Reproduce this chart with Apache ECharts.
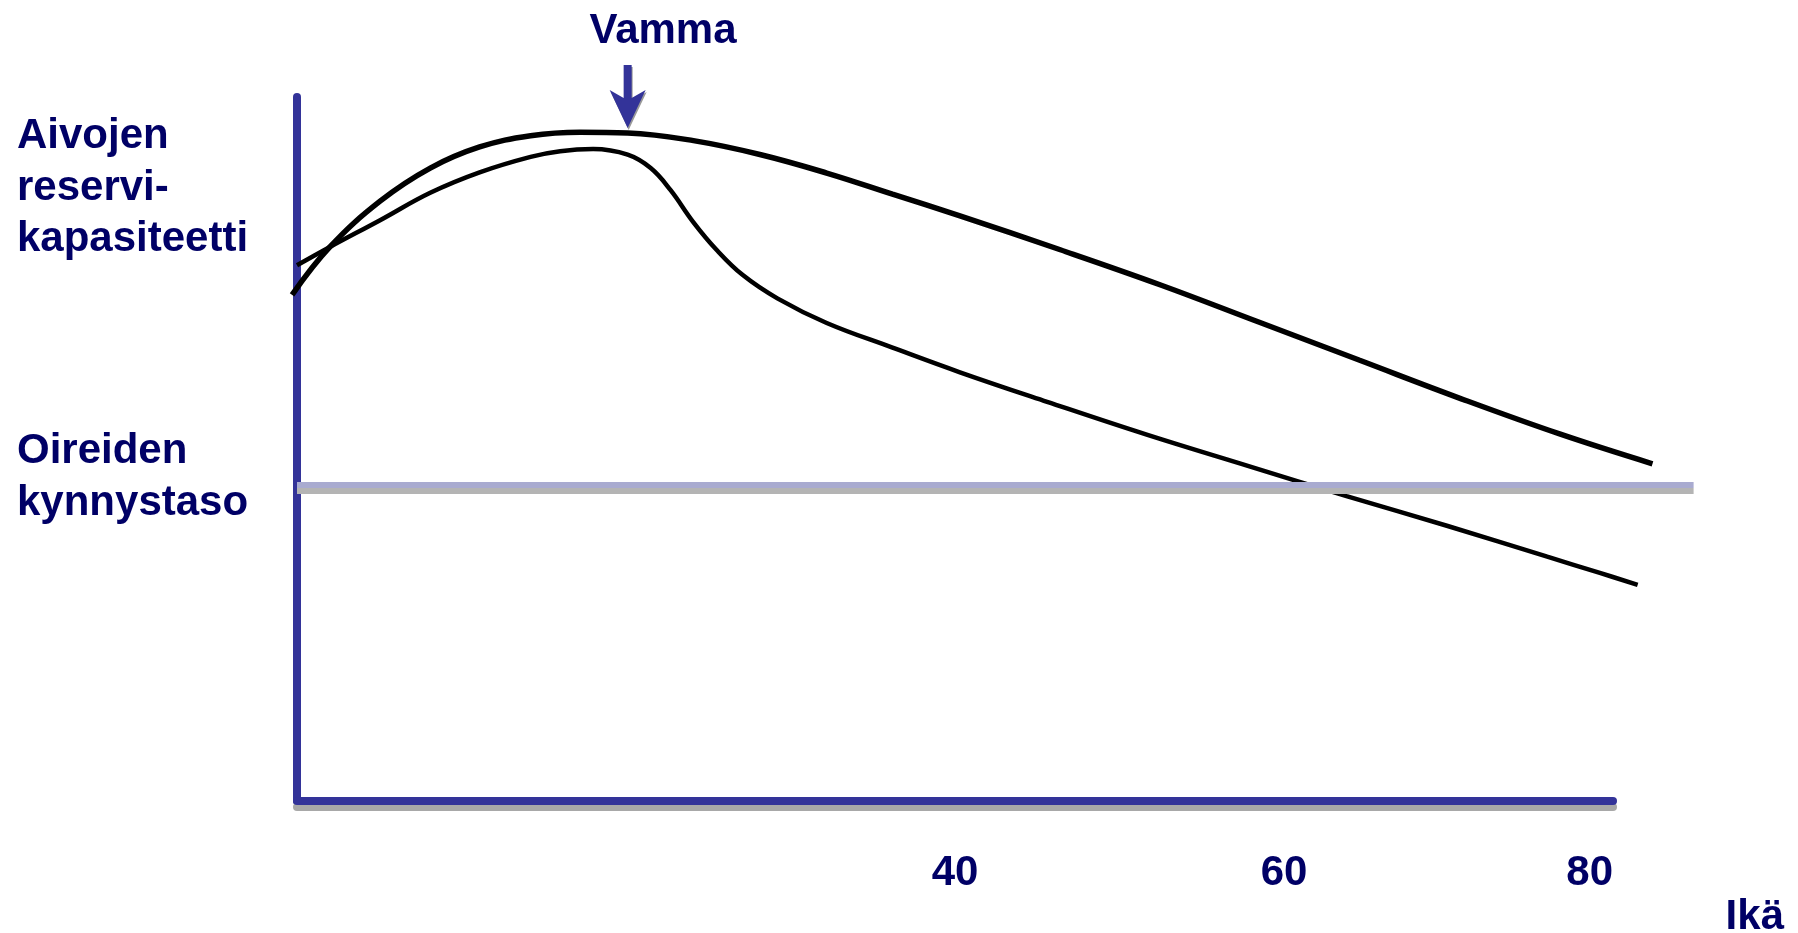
<!DOCTYPE html>
<html>
<head>
<meta charset="utf-8">
<title>Aivojen reservikapasiteetti</title>
<script src="https://cdn.jsdelivr.net/npm/echarts@6.0.0/dist/echarts.min.js"></script>
<style>
  html, body { margin: 0; padding: 0; background: #fff; }
  #chart { width: 1798px; height: 933px; }
</style>
</head>
<body>
<div id="chart"></div>
<script>
  // terve käyrä (ylempi)
  const healthyAge = [-0.3, 2.0, 5.05, 8.1, 11.1, 14.2, 17.2, 20.1, 24.1, 28.2, 32.2, 36.2, 40.3, 46.4, 52.5, 58.5, 64.6, 70.7, 76.8, 82.4]
  const healthyReserve = [71.9, 78.7, 85.2, 89.9, 92.9, 94.5, 95.0, 94.9, 93.8, 91.8, 89.2, 86.2, 83.1, 78.3, 73.3, 68.0, 62.6, 57.2, 52.1, 47.9]
  // vamman jälkeinen käyrä (alempi)
  const injuredAge = [0, 2.0, 5.05, 8.1, 11.1, 14.2, 16.0, 18.0, 20.1, 21.5, 22.7, 24.1, 25.5, 27.1, 29.2, 32.2, 36.2, 40.3, 45.6, 51.7, 57.8, 63.8, 69.9, 76.0, 79.2, 81.5]
  const injuredReserve = [76.1, 78.7, 82.5, 86.4, 89.3, 91.5, 92.3, 92.6, 91.8, 89.9, 86.8, 82.2, 78.3, 74.7, 71.4, 67.9, 64.4, 60.9, 56.7, 52.0, 47.6, 43.3, 39.1, 34.7, 32.4, 30.7]
  // oireiden kynnystaso
  const thresholdAge = [0, 84.9]
  const thresholdLevel = [44.9, 44.9]
  // näkyvät ikäluvut
  const tickAges = [40, 60, 80]
  // vamman kohta
  const injuryAge = 20.1
  const injuryLevel = 95.6

  const navy = '#000066'
  const axisBlue = '#333399'
  const font = "'Liberation Sans', Arial, sans-serif"
  // yksi ikävuosi pikseleinä (akseli 0..80 = 1316 px)
  const pxPerYear = 1316 / 80

  const zip = (xs, ys) => xs.map((x, i) => [x, ys[i]])

  const chart = echarts.init(document.getElementById('chart'))

  // teksti varjolla
  const label = (text, x, y, size, align) => ({
    type: 'text',
    x: x,
    y: y,
    style: {
      text: text,
      font: 'bold ' + size + 'px ' + font,
      fill: navy,
      align: align || 'left',
      verticalAlign: 'middle',
      textShadowColor: '#a8a8a8',
      textShadowOffsetX: 2,
      textShadowOffsetY: 2
    }
  })

  const option = {
    backgroundColor: '#fff',
    animation: false,
    grid: [
      // näkyvät akselit
      { left: 297, right: 185, top: 97, bottom: 132 },
      // käyrät: sama mittakaava, mutta leveämpi alue (-1..86)
      { left: 297 - pxPerYear, right: 1798 - 297 - 86 * pxPerYear, top: 97, bottom: 132 }
    ],
    xAxis: [
      {
        gridIndex: 0,
        type: 'value',
        min: 0,
        max: 80,
        interval: 20,
        axisLine: {
          lineStyle: {
            color: axisBlue, width: 8,
            shadowColor: '#a8a8a8', shadowOffsetY: 6, shadowBlur: 0
          }
        },
        axisTick: { show: false },
        splitLine: { show: false },
        axisLabel: {
          margin: 51,
          alignMaxLabel: 'right',
          color: navy,
          fontFamily: font,
          fontWeight: 'bold',
          fontSize: 42,
          textShadowColor: '#a8a8a8',
          textShadowOffsetX: 2,
          textShadowOffsetY: 2,
          formatter: v => tickAges.includes(v) ? String(v) : ''
        }
      },
      { gridIndex: 1, type: 'value', min: -1, max: 86, show: false }
    ],
    yAxis: [
      {
        gridIndex: 0,
        type: 'value',
        min: 0,
        max: 100,
        axisLine: { show: true, lineStyle: { color: axisBlue, width: 8 } },
        axisTick: { show: false },
        axisLabel: { show: false },
        splitLine: { show: false }
      },
      { gridIndex: 1, type: 'value', min: 0, max: 100, show: false }
    ],
    series: [
      {
        name: 'terve',
        type: 'line',
        xAxisIndex: 1,
        yAxisIndex: 1,
        data: zip(healthyAge, healthyReserve),
        smooth: 0.4,
        showSymbol: false,
        lineStyle: { color: '#000', width: 5.5 },
        // nuoli vamman kohdalle
        markPoint: {
          symbol: 'path://M14,0 L22,0 L22,33 L36,25 L18,63 L0,25 L14,33 Z',
          symbolSize: [36, 63],
          symbolOffset: [0, '-50%'],
          itemStyle: {
            color: axisBlue,
            shadowColor: '#999', shadowOffsetX: 1, shadowOffsetY: 2, shadowBlur: 0
          },
          label: { show: false },
          data: [{ coord: [injuryAge, injuryLevel] }]
        }
      },
      {
        name: 'vamma',
        type: 'line',
        xAxisIndex: 1,
        yAxisIndex: 1,
        data: zip(injuredAge, injuredReserve),
        smooth: 0.4,
        showSymbol: false,
        lineStyle: { color: '#000', width: 4.5 }
      },
      {
        name: 'kynnys',
        type: 'line',
        xAxisIndex: 1,
        yAxisIndex: 1,
        data: zip(thresholdAge, thresholdLevel),
        showSymbol: false,
        z: 3,
        lineStyle: {
          color: '#a9abd0', width: 6,
          shadowColor: '#b4b4b4', shadowOffsetY: 6, shadowBlur: 0
        }
      }
    ],
    graphic: [
      label('Vamma', 663, 31, 42, 'center'),
      label('Aivojen', 17, 136, 42),
      label('reservi-', 17, 188, 42),
      label('kapasiteetti', 17, 239, 42),
      label('Oireiden', 17, 451, 42),
      label('kynnystaso', 17, 503, 42),
      label('Ikä', 1784, 917, 42, 'right')
    ]
  }
  chart.setOption(option)
</script>
</body>
</html>
